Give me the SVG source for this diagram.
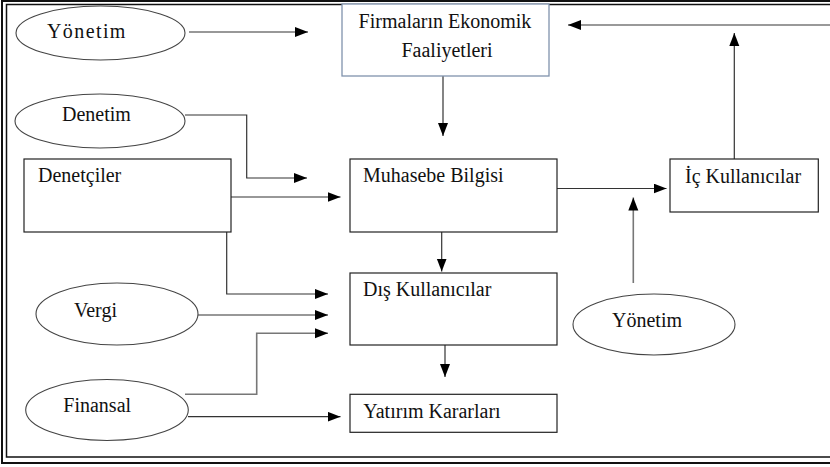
<svg xmlns="http://www.w3.org/2000/svg" width="830" height="467" viewBox="0 0 830 467">
<defs>
<style>
.box{fill:#fff;stroke:#222;stroke-width:1.2}
.ell{fill:#fff;stroke:#444;stroke-width:1.1}
.t{font-size:20px;fill:#111}
.c{fill:none;stroke:#333;stroke-width:1.2}
.g{fill:none;stroke:#777;stroke-width:1.6}
</style>
<marker id="ah" markerUnits="userSpaceOnUse" markerWidth="14" markerHeight="11" refX="13" refY="5" orient="auto">
<path d="M0,0 L13,5 L0,10 Z" fill="#000"/>
</marker>
</defs>
<rect width="830" height="467" fill="#fff"/>
<g id="frame" fill="none" stroke="#111">
<path d="M840,1 H2 V463 H840" stroke-width="2"/>
<path d="M840,4.5 H6.5 V457 H840" stroke-width="1.5"/>
</g>
<g id="connectors">
<path class="c" d="M189,32 H308" marker-end="url(#ah)"/>
<path class="c" d="M443,76 V136" marker-end="url(#ah)"/>
<path class="g" d="M830,25 H568" marker-end="url(#ah)"/>
<path class="c" d="M185,115 H246.7 V178 H307" marker-end="url(#ah)"/>
<path class="c" d="M231,197 H340.5" marker-end="url(#ah)"/>
<path class="c" d="M226.7,232 V294 H328" marker-end="url(#ah)"/>
<path class="c" d="M557,188.5 H666.5" marker-end="url(#ah)"/>
<path class="c" d="M734.3,159 V33" marker-end="url(#ah)"/>
<path class="c" d="M441.7,232 V271.5" marker-end="url(#ah)"/>
<path class="g" d="M633.3,283 V197.5" marker-end="url(#ah)"/>
<path class="c" d="M198,315 H328" marker-end="url(#ah)"/>
<path class="g" d="M185,394.3 H256.7 V333.3 H328" marker-end="url(#ah)"/>
<path class="c" d="M188,416.7 H340.5" marker-end="url(#ah)"/>
<path class="c" d="M445,345 V377" marker-end="url(#ah)"/>
</g>
<g font-family="'Liberation Serif', 'Times New Roman', 'DejaVu Serif', serif">
<g id="yonetim1"><ellipse class="ell" cx="100.5" cy="33" rx="84.5" ry="27"/><text class="t" x="47" y="37.5" letter-spacing="1.4">Yönetim</text></g>
<g id="firmalar"><rect x="342" y="4" width="207" height="72" fill="#fff" stroke="#8093ad" stroke-width="1.3"/><text class="t" x="445" y="28.3" text-anchor="middle">Firmaların Ekonomik</text><text class="t" x="447" y="56.7" text-anchor="middle">Faaliyetleri</text></g>
<g id="denetim"><ellipse class="ell" cx="100" cy="121" rx="85" ry="27"/><text class="t" x="62" y="121">Denetim</text></g>
<g id="denetciler"><rect class="box" x="24" y="159" width="207" height="73"/><text class="t" x="38" y="182">Denetçiler</text></g>
<g id="muhasebe"><rect class="box" x="350" y="159" width="207" height="73"/><text class="t" x="363" y="182">Muhasebe Bilgisi</text></g>
<g id="ickullanicilar"><rect class="box" x="670" y="159" width="148.3" height="53"/><text class="t" x="685" y="183">İç Kullanıcılar</text></g>
<g id="diskullanicilar"><rect class="box" x="350" y="273" width="207" height="72"/><text class="t" x="363" y="295.7">Dış Kullanıcılar</text></g>
<g id="vergi"><ellipse class="ell" cx="117" cy="314" rx="81" ry="31"/><text class="t" x="74" y="316.7">Vergi</text></g>
<g id="yonetim2"><ellipse class="ell" cx="654" cy="324.5" rx="81" ry="30.5"/><text class="t" x="612" y="326.7">Yönetim</text></g>
<g id="finansal"><ellipse class="ell" cx="107" cy="410" rx="81.3" ry="30.5"/><text class="t" x="63.3" y="411.7">Finansal</text></g>
<g id="yatirim"><rect class="box" x="350" y="394.3" width="207" height="38"/><text class="t" x="363.3" y="418.3">Yatırım Kararları</text></g>
</g>
</svg>
